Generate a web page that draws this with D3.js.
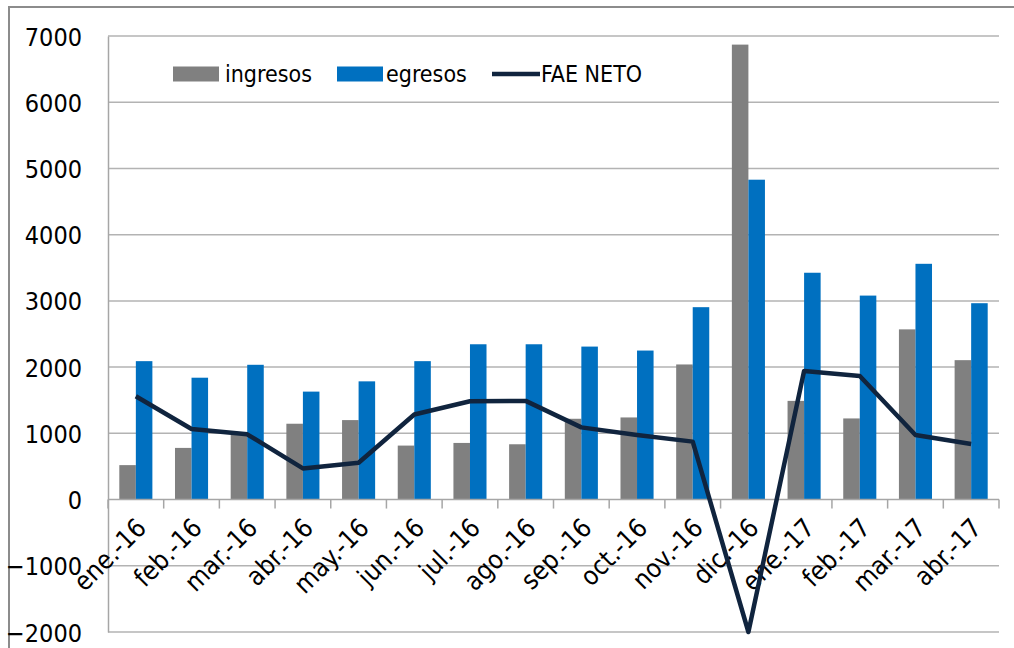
<!DOCTYPE html>
<html>
<head>
<meta charset="utf-8">
<script src="https://cdn.jsdelivr.net/npm/d3@7"></script>
<style>
  body { margin: 0; background: #fff; }
  svg { display: block; }
  text { font-family: "DejaVu Sans Condensed", "DejaVu Sans", sans-serif; fill: #000; }
</style>
</head>
<body>
<div id="chart"></div>
<script>
const months = ['ene.-16', 'feb.-16', 'mar.-16', 'abr.-16', 'may.-16', 'jun.-16', 'jul.-16', 'ago.-16',
   'sep.-16', 'oct.-16', 'nov.-16', 'dic.-16', 'ene.-17', 'feb.-17', 'mar.-17', 'abr.-17']
const ingresos = [520, 780, 975, 1145, 1200, 815, 855, 835, 1220, 1240, 2040, 6870, 1490, 1225, 2570, 2105]
const egresos = [2090, 1840, 2035, 1630, 1785, 2090, 2345, 2345, 2310, 2250, 2905, 4830, 3425, 3080, 3560, 2965]
const faeNeto = [1560, 1065, 985, 470, 555, 1285, 1485, 1490, 1090, 975, 875, -2000, 1940, 1865, 975, 840]
const yTicks = [7000, 6000, 5000, 4000, 3000, 2000, 1000, 0, -1000, -2000]

const width = 1014, height = 648
const plotLeft = 108, plotRight = 999, plotTop = 36, plotBottom = 632

const svg = d3.select('#chart').append('svg')
   .attr('width', width)
   .attr('height', height)

// outer frame (only top and left edges are visible)
svg.append('path')
   .attr('d', `M9,${height} V7 H${width}`)
   .attr('fill', 'none')
   .attr('stroke', '#8c8c8c')
   .attr('stroke-width', 2)

const x = d3.scaleBand().domain(months).range([plotLeft, plotRight])
const gap = x.bandwidth() * 0.203
const x1 = d3.scaleBand().domain(['ingresos', 'egresos']).range([gap, x.bandwidth() - gap])
const y = d3.scaleLinear().domain([-2000, 7000]).range([plotBottom, plotTop])

// gridlines
svg.append('g')
   .selectAll('line')
   .data(yTicks.filter(d => d !== 0))
   .enter()
   .append('line')
   .attr('x1', plotLeft)
   .attr('x2', plotRight)
   .attr('y1', d => y(d))
   .attr('y2', d => y(d))
   .attr('stroke', '#b3b3b3')
   .attr('stroke-width', 1.5)

// y axis
const yAxis = svg.append('g')
   .attr('transform', `translate(${plotLeft},0)`)
   .call(d3.axisLeft(y).tickValues(yTicks).tickSize(0).tickPadding(26).tickFormat(d3.format('d')))
yAxis.select('.domain').attr('stroke', '#a6a6a6').attr('stroke-width', 1.5)
yAxis.selectAll('text')
   .style('font-family', '"DejaVu Sans Condensed", "DejaVu Sans", sans-serif')
   .style('font-size', '25px')
   .attr('fill', '#000')
   .attr('dy', '0.36em')

// bars
const groups = svg.append('g')
   .selectAll('g')
   .data(months.map((m, i) => ({ m, ingresos: ingresos[i], egresos: egresos[i] })))
   .enter()
   .append('g')
   .attr('transform', d => `translate(${x(d.m)},0)`)

const colors = { ingresos: '#808080', egresos: '#0070c0' }
groups.selectAll('rect')
   .data(d => ['ingresos', 'egresos'].map(k => ({ k, v: d[k] })))
   .enter()
   .append('rect')
   .attr('x', d => x1(d.k))
   .attr('width', x1.bandwidth())
   .attr('y', d => y(d.v))
   .attr('height', d => y(0) - y(d.v))
   .attr('fill', d => colors[d.k])

// x axis at zero with ticks on category boundaries
const xAxisG = svg.append('g')
xAxisG.append('line')
   .attr('x1', plotLeft).attr('x2', plotRight)
   .attr('y1', y(0)).attr('y2', y(0))
   .attr('stroke', '#a6a6a6').attr('stroke-width', 1.5)
xAxisG.selectAll('line.tick')
   .data(months.map(m => x(m)).concat([plotRight]))
   .enter()
   .append('line')
   .attr('class', 'tick')
   .attr('x1', d => d).attr('x2', d => d)
   .attr('y1', y(0)).attr('y2', y(0) + 9)
   .attr('stroke', '#a6a6a6').attr('stroke-width', 1.5)

xAxisG.selectAll('text')
   .data(months)
   .enter()
   .append('text')
   .attr('text-anchor', 'end')
   .attr('transform', d => `translate(${x(d) + x.bandwidth() / 2 - 1},${y(0) + 17}) rotate(-45)`)
   .style('font-size', '26px')
   .attr('dy', '0.7em')
   .text(d => d)

// FAE NETO line
const line = d3.line()
   .x((d, i) => x(months[i]) + x.bandwidth() / 2)
   .y(d => y(d))
svg.append('path')
   .datum(faeNeto)
   .attr('d', line)
   .attr('fill', 'none')
   .attr('stroke', '#10243e')
   .attr('stroke-width', 4.5)
   .attr('stroke-linejoin', 'round')

// legend
const legend = svg.append('g').attr('transform', 'translate(0,74)')
const legendItems = [
   { label: 'ingresos', type: 'rect', color: '#808080', x: 173, tx: 225 },
   { label: 'egresos', type: 'rect', color: '#0070c0', x: 337, tx: 386 },
   { label: 'FAE NETO', type: 'line', color: '#10243e', x: 492, tx: 541 },
]
legendItems.forEach(it => {
   if (it.type === 'rect') {
      legend.append('rect')
         .attr('x', it.x).attr('y', -7.5)
         .attr('width', 46).attr('height', 15)
         .attr('fill', it.color)
   } else {
      legend.append('line')
         .attr('x1', it.x).attr('x2', it.x + 48)
         .attr('y1', 0).attr('y2', 0)
         .attr('stroke', it.color).attr('stroke-width', 4.5)
   }
   legend.append('text')
      .attr('x', it.tx)
      .attr('y', 0)
      .attr('dy', '0.36em')
      .style('font-size', '23px')
      .text(it.label)
})
</script>
</body>
</html>
